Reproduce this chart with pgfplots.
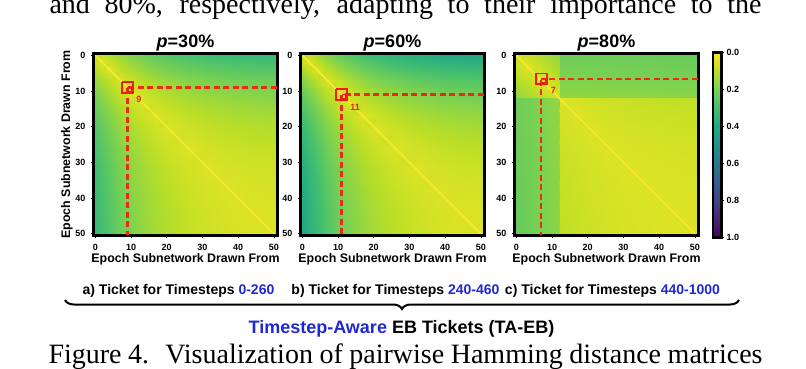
\documentclass[border=0pt]{standalone}
\usepackage{fontspec}
\setmainfont{Liberation Sans}
\newfontfamily\timesfont{Liberation Serif}
\usepackage{pgfplots}
\pgfplotsset{compat=1.18}
\usetikzlibrary{decorations.pathreplacing}
\definecolor{tblue}{RGB}{30,40,215}
\definecolor{annred}{RGB}{238,30,22}
\definecolor{dashred}{RGB}{232,44,24}
\definecolor{diagyel}{RGB}{252,234,46}
\pgfplotsset{colormap={rviridis}{rgb255=(253,231,37) rgb255=(189,223,38) rgb255=(122,209,81) rgb255=(68,191,112) rgb255=(34,168,132) rgb255=(33,145,140) rgb255=(42,120,142) rgb255=(53,95,141) rgb255=(65,68,135) rgb255=(72,36,117) rgb255=(68,1,84)}}
\pgfplotsset{
 geom/.style={
  scale only axis, width=184pt, height=182pt,
  xmin=-0.5, xmax=51, ymin=-0.5, ymax=50.5, y dir=reverse,
  enlargelimits=false,
 },
 hmap/.style={geom,
  xtick={0,10,20,30,40,50}, ytick={0,10,20,30,40,50},
  axis on top, axis line style={line width=3pt, line cap=rect},
  tick style={black, line width=0.6pt}, tick align=outside, major tick length=2.5pt,
  tick pos=left,
  ticklabel style={font=\bfseries\fontsize{9}{9}\selectfont},
  xticklabel style={yshift=-3pt}, yticklabel style={xshift=-2pt},
  /pgf/number format/assume math mode=true,
  colormap name=rviridis, point meta min=0, point meta max=1,
 },
 over/.style={geom, hide axis},
 dashl/.style={dashred, dash pattern=on 6pt off 3.5pt, line width=2.3pt, line cap=butt},
 sqr/.style={annred, line width=1.8pt},
 sqi/.style={annred, line width=1.3pt},
}
\begin{document}
\begin{tikzpicture}
\path[use as bounding box] (0,0) rectangle (806pt,368pt);
% ---------------- panel 1 ----------------
\begin{axis}[hmap, at={(93.5pt,132.5pt)}, anchor=south west]
\addplot[surf, shader=interp, mesh/cols=13, point meta=explicit] coordinates {
(-0.5,-0.5)[0.050] (2,-0.5)[0.087] (4,-0.5)[0.120] (7,-0.5)[0.162] (10,-0.5)[0.196] (13,-0.5)[0.224] (17,-0.5)[0.253] (21,-0.5)[0.276] (26,-0.5)[0.297] (32,-0.5)[0.315] (38,-0.5)[0.326] (44,-0.5)[0.334] (51,-0.5)[0.339]
(-0.5,2)[0.087] (2,2)[0.050] (4,2)[0.083] (7,2)[0.125] (10,2)[0.159] (13,2)[0.187] (17,2)[0.216] (21,2)[0.239] (26,2)[0.260] (32,2)[0.278] (38,2)[0.289] (44,2)[0.297] (51,2)[0.302]
(-0.5,4)[0.120] (2,4)[0.083] (4,4)[0.050] (7,4)[0.092] (10,4)[0.126] (13,4)[0.154] (17,4)[0.183] (21,4)[0.206] (26,4)[0.227] (32,4)[0.245] (38,4)[0.256] (44,4)[0.264] (51,4)[0.269]
(-0.5,7)[0.162] (2,7)[0.125] (4,7)[0.092] (7,7)[0.050] (10,7)[0.084] (13,7)[0.112] (17,7)[0.141] (21,7)[0.164] (26,7)[0.185] (32,7)[0.203] (38,7)[0.214] (44,7)[0.222] (51,7)[0.227]
(-0.5,10)[0.196] (2,10)[0.159] (4,10)[0.126] (7,10)[0.084] (10,10)[0.050] (13,10)[0.078] (17,10)[0.107] (21,10)[0.130] (26,10)[0.151] (32,10)[0.169] (38,10)[0.180] (44,10)[0.188] (51,10)[0.193]
(-0.5,13)[0.224] (2,13)[0.187] (4,13)[0.154] (7,13)[0.112] (10,13)[0.078] (13,13)[0.050] (17,13)[0.079] (21,13)[0.102] (26,13)[0.123] (32,13)[0.141] (38,13)[0.152] (44,13)[0.160] (51,13)[0.165]
(-0.5,17)[0.253] (2,17)[0.216] (4,17)[0.183] (7,17)[0.141] (10,17)[0.107] (13,17)[0.079] (17,17)[0.050] (21,17)[0.073] (26,17)[0.094] (32,17)[0.112] (38,17)[0.123] (44,17)[0.131] (51,17)[0.136]
(-0.5,21)[0.276] (2,21)[0.239] (4,21)[0.206] (7,21)[0.164] (10,21)[0.130] (13,21)[0.102] (17,21)[0.073] (21,21)[0.050] (26,21)[0.071] (32,21)[0.089] (38,21)[0.100] (44,21)[0.108] (51,21)[0.113]
(-0.5,26)[0.297] (2,26)[0.260] (4,26)[0.227] (7,26)[0.185] (10,26)[0.151] (13,26)[0.123] (17,26)[0.094] (21,26)[0.071] (26,26)[0.050] (32,26)[0.068] (38,26)[0.079] (44,26)[0.087] (51,26)[0.092]
(-0.5,32)[0.315] (2,32)[0.278] (4,32)[0.245] (7,32)[0.203] (10,32)[0.169] (13,32)[0.141] (17,32)[0.112] (21,32)[0.089] (26,32)[0.068] (32,32)[0.050] (38,32)[0.061] (44,32)[0.069] (51,32)[0.074]
(-0.5,38)[0.326] (2,38)[0.289] (4,38)[0.256] (7,38)[0.214] (10,38)[0.180] (13,38)[0.152] (17,38)[0.123] (21,38)[0.100] (26,38)[0.079] (32,38)[0.061] (38,38)[0.050] (44,38)[0.058] (51,38)[0.063]
(-0.5,44)[0.334] (2,44)[0.297] (4,44)[0.264] (7,44)[0.222] (10,44)[0.188] (13,44)[0.160] (17,44)[0.131] (21,44)[0.108] (26,44)[0.087] (32,44)[0.069] (38,44)[0.058] (44,44)[0.050] (51,44)[0.055]
(-0.5,50.5)[0.339] (2,50.5)[0.302] (4,50.5)[0.269] (7,50.5)[0.227] (10,50.5)[0.193] (13,50.5)[0.165] (17,50.5)[0.136] (21,50.5)[0.113] (26,50.5)[0.092] (32,50.5)[0.074] (38,50.5)[0.063] (44,50.5)[0.055] (51,50.5)[0.050]
};
\addplot[diagyel, line width=1.5pt] coordinates {(-0.5,-0.5) (50.5,50.5)};
\end{axis}
% ---------------- panel 2 ----------------
\begin{axis}[hmap, at={(300.5pt,132.5pt)}, anchor=south west]
\addplot[surf, shader=interp, mesh/cols=13, point meta=explicit] coordinates {
(-0.5,-0.5)[0.050] (2,-0.5)[0.097] (4,-0.5)[0.139] (7,-0.5)[0.192] (10,-0.5)[0.235] (13,-0.5)[0.270] (17,-0.5)[0.308] (21,-0.5)[0.336] (26,-0.5)[0.363] (32,-0.5)[0.385] (38,-0.5)[0.400] (44,-0.5)[0.410] (51,-0.5)[0.416]
(-0.5,2)[0.097] (2,2)[0.050] (4,2)[0.092] (7,2)[0.145] (10,2)[0.188] (13,2)[0.223] (17,2)[0.261] (21,2)[0.289] (26,2)[0.316] (32,2)[0.338] (38,2)[0.353] (44,2)[0.363] (51,2)[0.369]
(-0.5,4)[0.139] (2,4)[0.092] (4,4)[0.050] (7,4)[0.103] (10,4)[0.146] (13,4)[0.181] (17,4)[0.219] (21,4)[0.247] (26,4)[0.274] (32,4)[0.296] (38,4)[0.311] (44,4)[0.321] (51,4)[0.327]
(-0.5,7)[0.192] (2,7)[0.145] (4,7)[0.103] (7,7)[0.050] (10,7)[0.093] (13,7)[0.128] (17,7)[0.166] (21,7)[0.194] (26,7)[0.221] (32,7)[0.243] (38,7)[0.258] (44,7)[0.268] (51,7)[0.274]
(-0.5,10)[0.235] (2,10)[0.188] (4,10)[0.146] (7,10)[0.093] (10,10)[0.050] (13,10)[0.085] (17,10)[0.123] (21,10)[0.151] (26,10)[0.178] (32,10)[0.200] (38,10)[0.215] (44,10)[0.225] (51,10)[0.231]
(-0.5,13)[0.270] (2,13)[0.223] (4,13)[0.181] (7,13)[0.128] (10,13)[0.085] (13,13)[0.050] (17,13)[0.088] (21,13)[0.116] (26,13)[0.143] (32,13)[0.165] (38,13)[0.180] (44,13)[0.190] (51,13)[0.196]
(-0.5,17)[0.308] (2,17)[0.261] (4,17)[0.219] (7,17)[0.166] (10,17)[0.123] (13,17)[0.088] (17,17)[0.050] (21,17)[0.078] (26,17)[0.105] (32,17)[0.127] (38,17)[0.142] (44,17)[0.152] (51,17)[0.158]
(-0.5,21)[0.336] (2,21)[0.289] (4,21)[0.247] (7,21)[0.194] (10,21)[0.151] (13,21)[0.116] (17,21)[0.078] (21,21)[0.050] (26,21)[0.077] (32,21)[0.099] (38,21)[0.114] (44,21)[0.124] (51,21)[0.130]
(-0.5,26)[0.363] (2,26)[0.316] (4,26)[0.274] (7,26)[0.221] (10,26)[0.178] (13,26)[0.143] (17,26)[0.105] (21,26)[0.077] (26,26)[0.050] (32,26)[0.072] (38,26)[0.087] (44,26)[0.097] (51,26)[0.103]
(-0.5,32)[0.385] (2,32)[0.338] (4,32)[0.296] (7,32)[0.243] (10,32)[0.200] (13,32)[0.165] (17,32)[0.127] (21,32)[0.099] (26,32)[0.072] (32,32)[0.050] (38,32)[0.065] (44,32)[0.075] (51,32)[0.081]
(-0.5,38)[0.400] (2,38)[0.353] (4,38)[0.311] (7,38)[0.258] (10,38)[0.215] (13,38)[0.180] (17,38)[0.142] (21,38)[0.114] (26,38)[0.087] (32,38)[0.065] (38,38)[0.050] (44,38)[0.060] (51,38)[0.066]
(-0.5,44)[0.410] (2,44)[0.363] (4,44)[0.321] (7,44)[0.268] (10,44)[0.225] (13,44)[0.190] (17,44)[0.152] (21,44)[0.124] (26,44)[0.097] (32,44)[0.075] (38,44)[0.060] (44,44)[0.050] (51,44)[0.056]
(-0.5,50.5)[0.416] (2,50.5)[0.369] (4,50.5)[0.327] (7,50.5)[0.274] (10,50.5)[0.231] (13,50.5)[0.196] (17,50.5)[0.158] (21,50.5)[0.130] (26,50.5)[0.103] (32,50.5)[0.081] (38,50.5)[0.066] (44,50.5)[0.056] (51,50.5)[0.050]
};
\addplot[diagyel, line width=1.5pt] coordinates {(-0.5,-0.5) (50.5,50.5)};
\end{axis}
% ---------------- panel 3 ----------------
\begin{axis}[hmap, at={(514.5pt,132.5pt)}, anchor=south west,
  colorbar,
  colorbar style={
    at={(parent axis.north east)}, anchor=north west, xshift=6pt, yshift=1pt,
    width=8.5pt, height=185pt, y dir=reverse, axis on top,
    ytick={0,0.2,0.4,0.6,0.8,1}, xtick=\empty,
    axis line style={line width=2.4pt, line cap=rect},
    ytick style={line width=0.5pt, black}, tick align=outside, major tick length=2pt,
    yticklabel pos=right, ytick pos=right,
    yticklabel style={font=\bfseries\fontsize{9}{9}\selectfont, xshift=-0.5pt, /pgf/number format/fixed, /pgf/number format/fixed zerofill, /pgf/number format/precision=1, /pgf/number format/assume math mode=true},
  }]
\addplot[surf, shader=interp, mesh/cols=13, point meta=explicit] coordinates {
(-0.5,-0.5)[0.050] (3,-0.5)[0.080] (6,-0.5)[0.110] (9,-0.5)[0.140] (11.9,-0.5)[0.170] (12.1,-0.5)[0.225] (17,-0.5)[0.226] (21,-0.5)[0.227] (26,-0.5)[0.229] (32,-0.5)[0.231] (38,-0.5)[0.233] (44,-0.5)[0.235] (51,-0.5)[0.237]
(-0.5,3)[0.080] (3,3)[0.050] (6,3)[0.080] (9,3)[0.110] (11.9,3)[0.140] (12.1,3)[0.210] (17,3)[0.211] (21,3)[0.212] (26,3)[0.214] (32,3)[0.216] (38,3)[0.218] (44,3)[0.220] (51,3)[0.222]
(-0.5,6)[0.110] (3,6)[0.080] (6,6)[0.050] (9,6)[0.080] (11.9,6)[0.110] (12.1,6)[0.195] (17,6)[0.196] (21,6)[0.197] (26,6)[0.199] (32,6)[0.201] (38,6)[0.203] (44,6)[0.205] (51,6)[0.207]
(-0.5,9)[0.140] (3,9)[0.110] (6,9)[0.080] (9,9)[0.050] (11.9,9)[0.080] (12.1,9)[0.180] (17,9)[0.181] (21,9)[0.182] (26,9)[0.184] (32,9)[0.186] (38,9)[0.188] (44,9)[0.190] (51,9)[0.192]
(-0.5,11.9)[0.170] (3,11.9)[0.140] (6,11.9)[0.110] (9,11.9)[0.080] (11.9,11.9)[0.050] (12.1,11.9)[0.165] (17,11.9)[0.166] (21,11.9)[0.167] (26,11.9)[0.169] (32,11.9)[0.171] (38,11.9)[0.173] (44,11.9)[0.175] (51,11.9)[0.177]
(-0.5,12.1)[0.225] (3,12.1)[0.210] (6,12.1)[0.195] (9,12.1)[0.180] (11.9,12.1)[0.165] (12.1,12.1)[0.050] (17,12.1)[0.061] (21,12.1)[0.070] (26,12.1)[0.079] (32,12.1)[0.086] (38,12.1)[0.090] (44,12.1)[0.094] (51,12.1)[0.096]
(-0.5,17)[0.226] (3,17)[0.211] (6,17)[0.196] (9,17)[0.181] (11.9,17)[0.166] (12.1,17)[0.061] (17,17)[0.050] (21,17)[0.059] (26,17)[0.068] (32,17)[0.075] (38,17)[0.079] (44,17)[0.083] (51,17)[0.085]
(-0.5,21)[0.227] (3,21)[0.212] (6,21)[0.197] (9,21)[0.182] (11.9,21)[0.167] (12.1,21)[0.070] (17,21)[0.059] (21,21)[0.050] (26,21)[0.059] (32,21)[0.066] (38,21)[0.070] (44,21)[0.074] (51,21)[0.076]
(-0.5,26)[0.229] (3,26)[0.214] (6,26)[0.199] (9,26)[0.184] (11.9,26)[0.169] (12.1,26)[0.079] (17,26)[0.068] (21,26)[0.059] (26,26)[0.050] (32,26)[0.057] (38,26)[0.061] (44,26)[0.065] (51,26)[0.067]
(-0.5,32)[0.231] (3,32)[0.216] (6,32)[0.201] (9,32)[0.186] (11.9,32)[0.171] (12.1,32)[0.086] (17,32)[0.075] (21,32)[0.066] (26,32)[0.057] (32,32)[0.050] (38,32)[0.054] (44,32)[0.058] (51,32)[0.060]
(-0.5,38)[0.233] (3,38)[0.218] (6,38)[0.203] (9,38)[0.188] (11.9,38)[0.173] (12.1,38)[0.090] (17,38)[0.079] (21,38)[0.070] (26,38)[0.061] (32,38)[0.054] (38,38)[0.050] (44,38)[0.054] (51,38)[0.056]
(-0.5,44)[0.235] (3,44)[0.220] (6,44)[0.205] (9,44)[0.190] (11.9,44)[0.175] (12.1,44)[0.094] (17,44)[0.083] (21,44)[0.074] (26,44)[0.065] (32,44)[0.058] (38,44)[0.054] (44,44)[0.050] (51,44)[0.052]
(-0.5,50.5)[0.237] (3,50.5)[0.222] (6,50.5)[0.207] (9,50.5)[0.192] (11.9,50.5)[0.177] (12.1,50.5)[0.096] (17,50.5)[0.085] (21,50.5)[0.076] (26,50.5)[0.067] (32,50.5)[0.060] (38,50.5)[0.056] (44,50.5)[0.052] (51,50.5)[0.050]
};
\addplot[diagyel, line width=1.5pt] coordinates {(-0.5,-0.5) (50.5,50.5)};
\end{axis}
% ---------------- red annotations (overlay axes, same geometry) ----------------
\begin{axis}[over, at={(93.5pt,132.5pt)}, anchor=south west]
\addplot[dashl] coordinates {(50.8,9) (9.2,9)};
\addplot[dashl] coordinates {(9,9.2) (9,50.3)};
\addplot[sqr] coordinates {(7.5,7.5) (10.5,7.5) (10.5,10.5) (7.5,10.5) (7.5,7.5)};
\addplot[sqi] coordinates {(9,9) (10.2,9) (10.2,10.2) (9,10.2) (9,9)};
\node[text=annred, font=\bfseries\fontsize{9}{9}\selectfont] at (axis cs:12.2,12.4) {9};
\end{axis}
\begin{axis}[over, at={(300.5pt,132.5pt)}, anchor=south west]
\addplot[dashl] coordinates {(50.8,11) (11.2,11)};
\addplot[dashl] coordinates {(11,11.2) (11,50.3)};
\addplot[sqr] coordinates {(9.5,9.5) (12.5,9.5) (12.5,12.5) (9.5,12.5) (9.5,9.5)};
\addplot[sqi] coordinates {(11,11) (12.2,11) (12.2,12.2) (11,12.2) (11,11)};
\node[text=annred, font=\bfseries\fontsize{9}{9}\selectfont] at (axis cs:14.8,14.6) {11};
\end{axis}
\begin{axis}[over, at={(514.5pt,132.5pt)}, anchor=south west]
\addplot[dashl] coordinates {(50.8,6.6) (7.2,6.6)};
\addplot[dashl] coordinates {(7,6.8) (7,50.3)};
\addplot[sqr] coordinates {(5.5,5.1) (8.5,5.1) (8.5,8.1) (5.5,8.1) (5.5,5.1)};
\addplot[sqi] coordinates {(7,6.6) (8.2,6.6) (8.2,7.8) (7,7.8) (7,6.6)};
\node[text=annred, font=\bfseries\fontsize{9}{9}\selectfont] at (axis cs:10.4,9.8) {7};
\end{axis}
% ---------------- texts ----------------
\node[anchor=base, font=\bfseries\fontsize{18}{18}\selectfont] at (185.5pt,321pt) {\textit{p}=30\%};
\node[anchor=base, font=\bfseries\fontsize{18}{18}\selectfont] at (392.5pt,321pt) {\textit{p}=60\%};
\node[anchor=base, font=\bfseries\fontsize{18}{18}\selectfont] at (606.5pt,321pt) {\textit{p}=80\%};
\node[anchor=base, font=\bfseries\fontsize{12.4}{12.4}\selectfont] at (185.5pt,106pt) {Epoch Subnetwork Drawn From};
\node[anchor=base, font=\bfseries\fontsize{12.4}{12.4}\selectfont] at (392.5pt,106pt) {Epoch Subnetwork Drawn From};
\node[anchor=base, font=\bfseries\fontsize{12.4}{12.4}\selectfont] at (606.5pt,106pt) {Epoch Subnetwork Drawn From};
\node[anchor=base, rotate=90, font=\bfseries\fontsize{12.4}{12.4}\selectfont] at (70pt,223.5pt) {Epoch Subnetwork Drawn From};
\node[anchor=base, font=\bfseries\fontsize{14}{14}\selectfont] at (178.5pt,74pt) {a) Ticket for Timesteps \textcolor{tblue}{0-260}};
\node[anchor=base, font=\bfseries\fontsize{14}{14}\selectfont] at (395.5pt,74pt) {b) Ticket for Timesteps \textcolor{tblue}{240-460}};
\node[anchor=base, font=\bfseries\fontsize{14}{14}\selectfont] at (612.5pt,74pt) {c) Ticket for Timesteps \textcolor{tblue}{440-1000}};
\draw[decorate, decoration={brace, mirror, amplitude=9pt}, line width=2pt] (65pt,68pt) -- (739pt,68pt);
\node[anchor=base, font=\bfseries\fontsize{18}{18}\selectfont] at (401.5pt,35pt) {\textcolor{tblue}{Timestep-Aware} EB Tickets (TA-EB)};
\node[anchor=base, inner sep=0pt, font=\timesfont\fontsize{28}{28}\selectfont] at (405.5pt,355pt) {\makebox[712pt][s]{and 80\%, respectively, adapting to their importance to the}};
\node[anchor=base, inner sep=0pt, font=\timesfont\fontsize{28}{28}\selectfont] at (405.5pt,5pt) {\makebox[714pt][s]{Figure 4.\hspace{0.25em} Visualization of pairwise Hamming distance matrices}};
\end{tikzpicture}
\end{document}
